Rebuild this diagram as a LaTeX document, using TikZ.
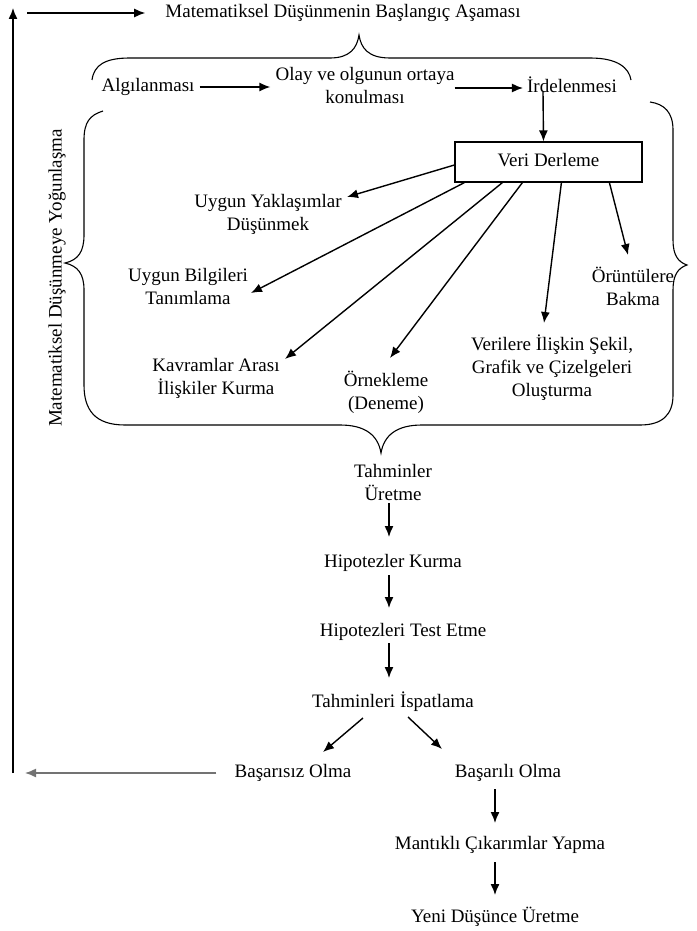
\documentclass[tikz,border=0pt]{standalone}
\usepackage{fontspec}
\setmainfont{Liberation Serif}
\usepackage{tikz}
\usetikzlibrary{arrows.meta}
\usetikzlibrary{calc}
\tikzset{>={Latex[length=11pt,width=9pt]}}
\tikzset{
	yazi/.style={font=\fontsize{19}{23}\selectfont, inner sep=0pt, align=center},
	tek/.style={yazi, text height=14pt, text depth=5pt},
	ok/.style={->, line width=1.4pt},
	parantez/.style={line width=1.1pt},
}

\begin{document}
\begin{tikzpicture}[x=1pt, y=-1pt]
		\useasboundingbox (0,0) rectangle (696,931);
		\node[tek] (baslangic) at (343,13) {Matematiksel Düşünmenin Başlangıç Aşaması};
		\coordinate (sol) at (27,13);
		\coordinate (tepe) at (13,8);
		\coordinate (dip) at (13,773);
		\coordinate (kol) at (389,0);
		\coordinate (kol2) at (495,0);
		\draw[ok] (sol) -- ([xshift=-20pt]baslangic.west);
		\draw[ok] (dip) -- (tepe);
		\draw[parantez] (92,80) .. controls (94,65) and (105,58) .. (130,58) -- (330,58) .. controls (350,58) and (357,48) .. (359,35) .. controls (361,48) and (368,58) .. (390,58) -- (590,58) .. controls (618,58) and (629,68) .. (631,80);
		\node[tek] (algi) at (148,87) {Algılanması};
		\node[yazi] (olay) at (365,86) {Olay ve olgunun ortaya\\konulması};
		\node[tek] (irdele) at (572,88) {İrdelenmesi};
		\draw[ok] ([xshift=5pt]algi.east) -- ([xshift=-5pt]algi.east -| olay.west);
		\draw[ok] (olay.east |- irdele) -- ([xshift=-4pt]irdele.west);
		\draw[parantez] (103,111) .. controls (90,115) and (84,122) .. (84,140) -- (84,235) .. controls (84,252) and (78,260) .. (65,263) .. controls (78,266) and (84,274) .. (84,290) -- (84,385) .. controls (84,410) and (95,425) .. (125,425);
		\draw[parantez] (125,425) -- (340,425) .. controls (365,425) and (378,435) .. (381,453) .. controls (384,435) and (397,425) .. (422,425) -- (640,425);
		\draw[parantez] (640,425) .. controls (662,425) and (673,415) .. (673,395) -- (673,290) .. controls (673,275) and (678,268) .. (687,265) .. controls (678,262) and (673,255) .. (673,240) -- (673,130) .. controls (673,112) and (664,104) .. (650,102);
		\node[tek, rotate=90] (yogun) at (57,278) {Matematiksel Düşünmeye Yoğunlaşma};
		\node[tek, draw, line width=1.2pt, minimum width=187pt, minimum height=40pt] (veri) at (548.5,162) {Veri Derleme};
		\draw[ok] ($(irdele.center)+(-29,4)$) -- ([xshift=-5pt]veri.north);
		\node[yazi] (yaklasim) at (268,214) {Uygun Yaklaşımlar\\Düşünmek};
		\node[yazi] (bilgi) at (188,286) {Uygun Bilgileri\\Tanımlama};
		\node[yazi] (kavram) at (216,378) {Kavramlar Arası\\İlişkiler Kurma};
		\node[yazi] (ornek) at (386,392) {Örnekleme\\(Deneme)};
		\node[yazi] (sekil) at (552,368) {Verilere İlişkin Şekil,\\Grafik ve Çizelgeleri\\Oluşturma};
		\node[yazi] (oruntu) at (633,286) {Örüntülere\\Bakma};
		\draw[ok] ([yshift=-3pt]veri.west) -- ($(yaklasim.center)+(79,-17)$);
		\draw[ok] ([xshift=10pt]veri.south west) -- ($(bilgi.center)+(63,7)$);
		\draw[ok] ([xshift=48pt]veri.south west) -- ($(kavram.center)+(69,-19)$);
		\draw[ok] ([xshift=68pt]veri.south west) -- ($(ornek.center)+(4,-34)$);
		\draw[ok] ([xshift=107pt]veri.south west) -- ($(sekil.center)+(-8,-45)$);
		\draw[ok] ([xshift=155pt]veri.south west) -- ($(oruntu.center)+(-5,-31)$);
		\node[yazi] (tahmin) at (393,482) {Tahminler\\Üretme};
		\node[tek] (hipotez) at (393,563) {Hipotezler Kurma};
		\node[tek] (test) at (403,632) {Hipotezleri Test Etme};
		\node[tek] (ispat) at (393,703) {Tahminleri İspatlama};
		\node[tek] (basarisiz) at (293,773) {Başarısız Olma};
		\node[tek] (basarili) at (508,773) {Başarılı Olma};
		\node[tek] (mantik) at (500,845) {Mantıklı Çıkarımlar Yapma};
		\node[tek] (yeni) at (495,918) {Yeni Düşünce Üretme};
		\draw[ok] ($(tahmin.center -| kol)+(0,21)$) -- ($(hipotez.center -| kol)+(0,-26)$);
		\draw[ok] ($(hipotez.center -| kol)+(0,12)$) -- ($(test.center -| kol)+(0,-24)$);
		\draw[ok] ($(test.center -| kol)+(0,11)$) -- ($(ispat.center -| kol)+(0,-25)$);
		\draw[ok] ($(ispat.center)+(-30,15)$) -- ($(basarisiz.center)+(30,-21)$);
		\draw[ok] ($(ispat.center)+(15,14)$) -- ($(basarili.center)+(-66,-24)$);
		\draw[ok] ($(basarili.center -| kol2)+(0,16)$) -- ($(mantik.center -| kol2)+(0,-22)$);
		\draw[ok] ($(mantik.center -| kol2)+(0,17)$) -- ($(yeni.center -| kol2)+(0,-23)$);
		\draw[ok, black!55] ([xshift=-18pt]basarisiz.center -| basarisiz.west) -- ($(dip |- basarisiz.center)+(12,0)$);
	\end{tikzpicture}
\end{document}
